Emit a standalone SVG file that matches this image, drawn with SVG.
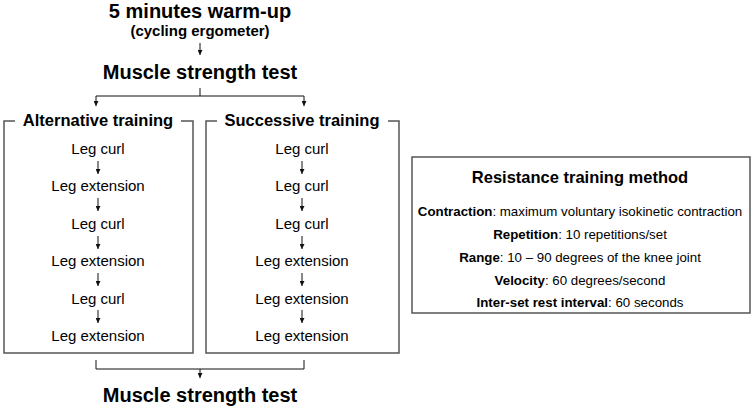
<svg xmlns="http://www.w3.org/2000/svg" width="753" height="409" viewBox="0 0 753 409">
<defs>
<marker id="ah" viewBox="0 0 6 6" refX="6" refY="3" markerWidth="5" markerHeight="5" orient="auto" markerUnits="userSpaceOnUse"><path d="M0,0 L6,3 L0,6 z" fill="#111"/></marker>
<style>
text{font-family:"Liberation Sans",Arial,sans-serif;fill:#000;text-anchor:middle}
.h{font-weight:bold;font-size:20px}
.sub{font-weight:bold;font-size:15px}
.t{font-weight:bold;font-size:16.5px}
.i{font-size:15px}
.p{font-size:13.3px}
.b{font-weight:bold}
.frame{fill:none;stroke:#555;stroke-width:1.5}
.c{fill:none;stroke:#111;stroke-width:1}
.a{fill:none;stroke:#111;stroke-width:1;marker-end:url(#ah)}
</style>
</defs>
<rect width="753" height="409" fill="#fff"/>
<g id="warmup"><text class="h" x="200" y="18">5 minutes warm-up</text><text class="sub" x="200" y="36">(cycling ergometer)</text></g>
<g id="test1"><text class="h" x="200" y="79">Muscle strength test</text></g>
<g id="alternative">
<path class="frame" d="M15,121 H4 V353 H193 V121 H181"/>
<text class="t" x="98" y="126">Alternative training</text>
<text class="i" x="98" y="154">Leg curl</text>
<text class="i" x="98" y="191">Leg extension</text>
<text class="i" x="98" y="229">Leg curl</text>
<text class="i" x="98" y="266">Leg extension</text>
<text class="i" x="98" y="304">Leg curl</text>
<text class="i" x="98" y="341">Leg extension</text>
</g>
<g id="successive">
<path class="frame" d="M217,121 H206 V353 H399 V121 H388"/>
<text class="t" x="302" y="126">Successive training</text>
<text class="i" x="302" y="154">Leg curl</text>
<text class="i" x="302" y="191">Leg curl</text>
<text class="i" x="302" y="229">Leg curl</text>
<text class="i" x="302" y="266">Leg extension</text>
<text class="i" x="302" y="304">Leg extension</text>
<text class="i" x="302" y="341">Leg extension</text>
</g>
<g id="method">
<rect class="frame" x="412" y="157" width="338" height="156"/>
<text class="t" x="580" y="183">Resistance training method</text>
<text class="p" x="580" y="216"><tspan class="b">Contraction</tspan>: maximum voluntary isokinetic contraction</text>
<text class="p" x="580" y="239"><tspan class="b">Repetition</tspan>: 10 repetitions/set</text>
<text class="p" x="580" y="262"><tspan class="b">Range</tspan>: 10 – 90 degrees of the knee joint</text>
<text class="p" x="580" y="285"><tspan class="b">Velocity</tspan>: 60 degrees/second</text>
<text class="p" x="580" y="307"><tspan class="b">Inter-set rest interval</tspan>: 60 seconds</text>
</g>
<g id="test2"><text class="h" x="200" y="402">Muscle strength test</text></g>
<g id="connectors">
<line class="a" x1="200" y1="43" x2="200" y2="55"/>
<path class="c" d="M200,88 V96 M96,96 H304"/>
<line class="a" x1="96" y1="96" x2="96" y2="106"/>
<line class="a" x1="304" y1="96" x2="304" y2="106"/>
<line class="a" x1="98" y1="161" x2="98" y2="174"/>
<line class="a" x1="98" y1="198" x2="98" y2="211"/>
<line class="a" x1="98" y1="236" x2="98" y2="249"/>
<line class="a" x1="98" y1="273" x2="98" y2="286"/>
<line class="a" x1="98" y1="310" x2="98" y2="323"/>
<line class="a" x1="302" y1="161" x2="302" y2="174"/>
<line class="a" x1="302" y1="198" x2="302" y2="211"/>
<line class="a" x1="302" y1="236" x2="302" y2="249"/>
<line class="a" x1="302" y1="273" x2="302" y2="286"/>
<line class="a" x1="302" y1="310" x2="302" y2="323"/>
<path class="c" d="M96,360 V369 H304 V360"/>
<line class="a" x1="200" y1="369" x2="200" y2="378"/>
</g>
</svg>
